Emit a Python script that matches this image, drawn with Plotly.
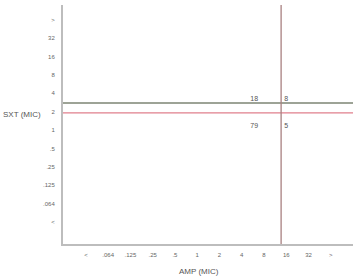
import plotly.graph_objects as go

# MIC categories (shared by both axes)
mic_labels = ["<", ".064", ".125", ".25", ".5", "1", "2", "4", "8", "16", "32", ">"]

# breakpoint lines, in category-index units
x_break = [8.77]            # AMP vertical line
y_breaks = [6.47, 5.93]     # SXT horizontal lines (upper, lower)
y_break_colors = ["#7d8573", "#e07f8c"]
x_break_color = "#a88080"

# quadrant counts
count_x = [7.56, 9.0, 7.56, 9.0]
count_y = [6.69, 6.69, 5.22, 5.22]
count_text = ["18", "8", "79", "5"]

FONT = "Liberation Sans Narrow, Arial Narrow, Liberation Sans, sans-serif"
idx = list(range(len(mic_labels)))

fig = go.Figure()
fig.add_trace(go.Scatter(
    x=count_x, y=count_y, text=count_text, mode="text",
    textfont=dict(family=FONT, size=7, color="#555555"),
    hoverinfo="skip", showlegend=False))

for yb, c in zip(y_breaks, y_break_colors):
    fig.add_shape(type="line", xref="paper", x0=0, x1=1, yref="y", y0=yb, y1=yb,
                  line=dict(color=c, width=1.3))
for xb in x_break:
    fig.add_shape(type="line", xref="x", x0=xb, x1=xb, yref="paper", y0=0, y1=1,
                  line=dict(color=x_break_color, width=1.3))

fig.update_layout(
    width=361, height=279,
    margin=dict(l=63, r=8, t=5, b=35),
    paper_bgcolor="white", plot_bgcolor="white",
    showlegend=False,
    font=dict(family=FONT, size=6, color="#555555"),
    xaxis=dict(range=[-1.03, 12.0], tickmode="array", tickvals=idx, ticktext=mic_labels,
               showgrid=False, zeroline=False, showline=True, linecolor="#bdbdbd",
               linewidth=2, ticks="outside", ticklen=4, tickcolor="rgba(0,0,0,0)",
               tickfont=dict(family=FONT, size=6, color="#666666")),
    yaxis=dict(range=[-1.2, 11.8], tickmode="array", tickvals=idx, ticktext=mic_labels,
               showgrid=False, zeroline=False, showline=True, linecolor="#bdbdbd",
               linewidth=2, ticks="outside", ticklen=5, tickcolor="rgba(0,0,0,0)",
               tickfont=dict(family=FONT, size=6, color="#666666")),
    annotations=[
        dict(text="AMP (MIC)", xref="paper", yref="paper", x=(199 - 63) / 290, y=-(271 - 244) / 239,
             showarrow=False, xanchor="center", yanchor="middle",
             font=dict(family=FONT, size=8, color="#555555")),
        dict(text="SXT (MIC)", xref="paper", yref="paper", x=-(63 - 22) / 290, y=(244 - 114) / 239,
             showarrow=False, xanchor="center", yanchor="middle",
             font=dict(family=FONT, size=8, color="#555555")),
    ],
)

fig.write_html("out.html", config={"displayModeBar": False},
               post_script="document.body.style.margin='0';document.body.style.overflow='hidden';")
